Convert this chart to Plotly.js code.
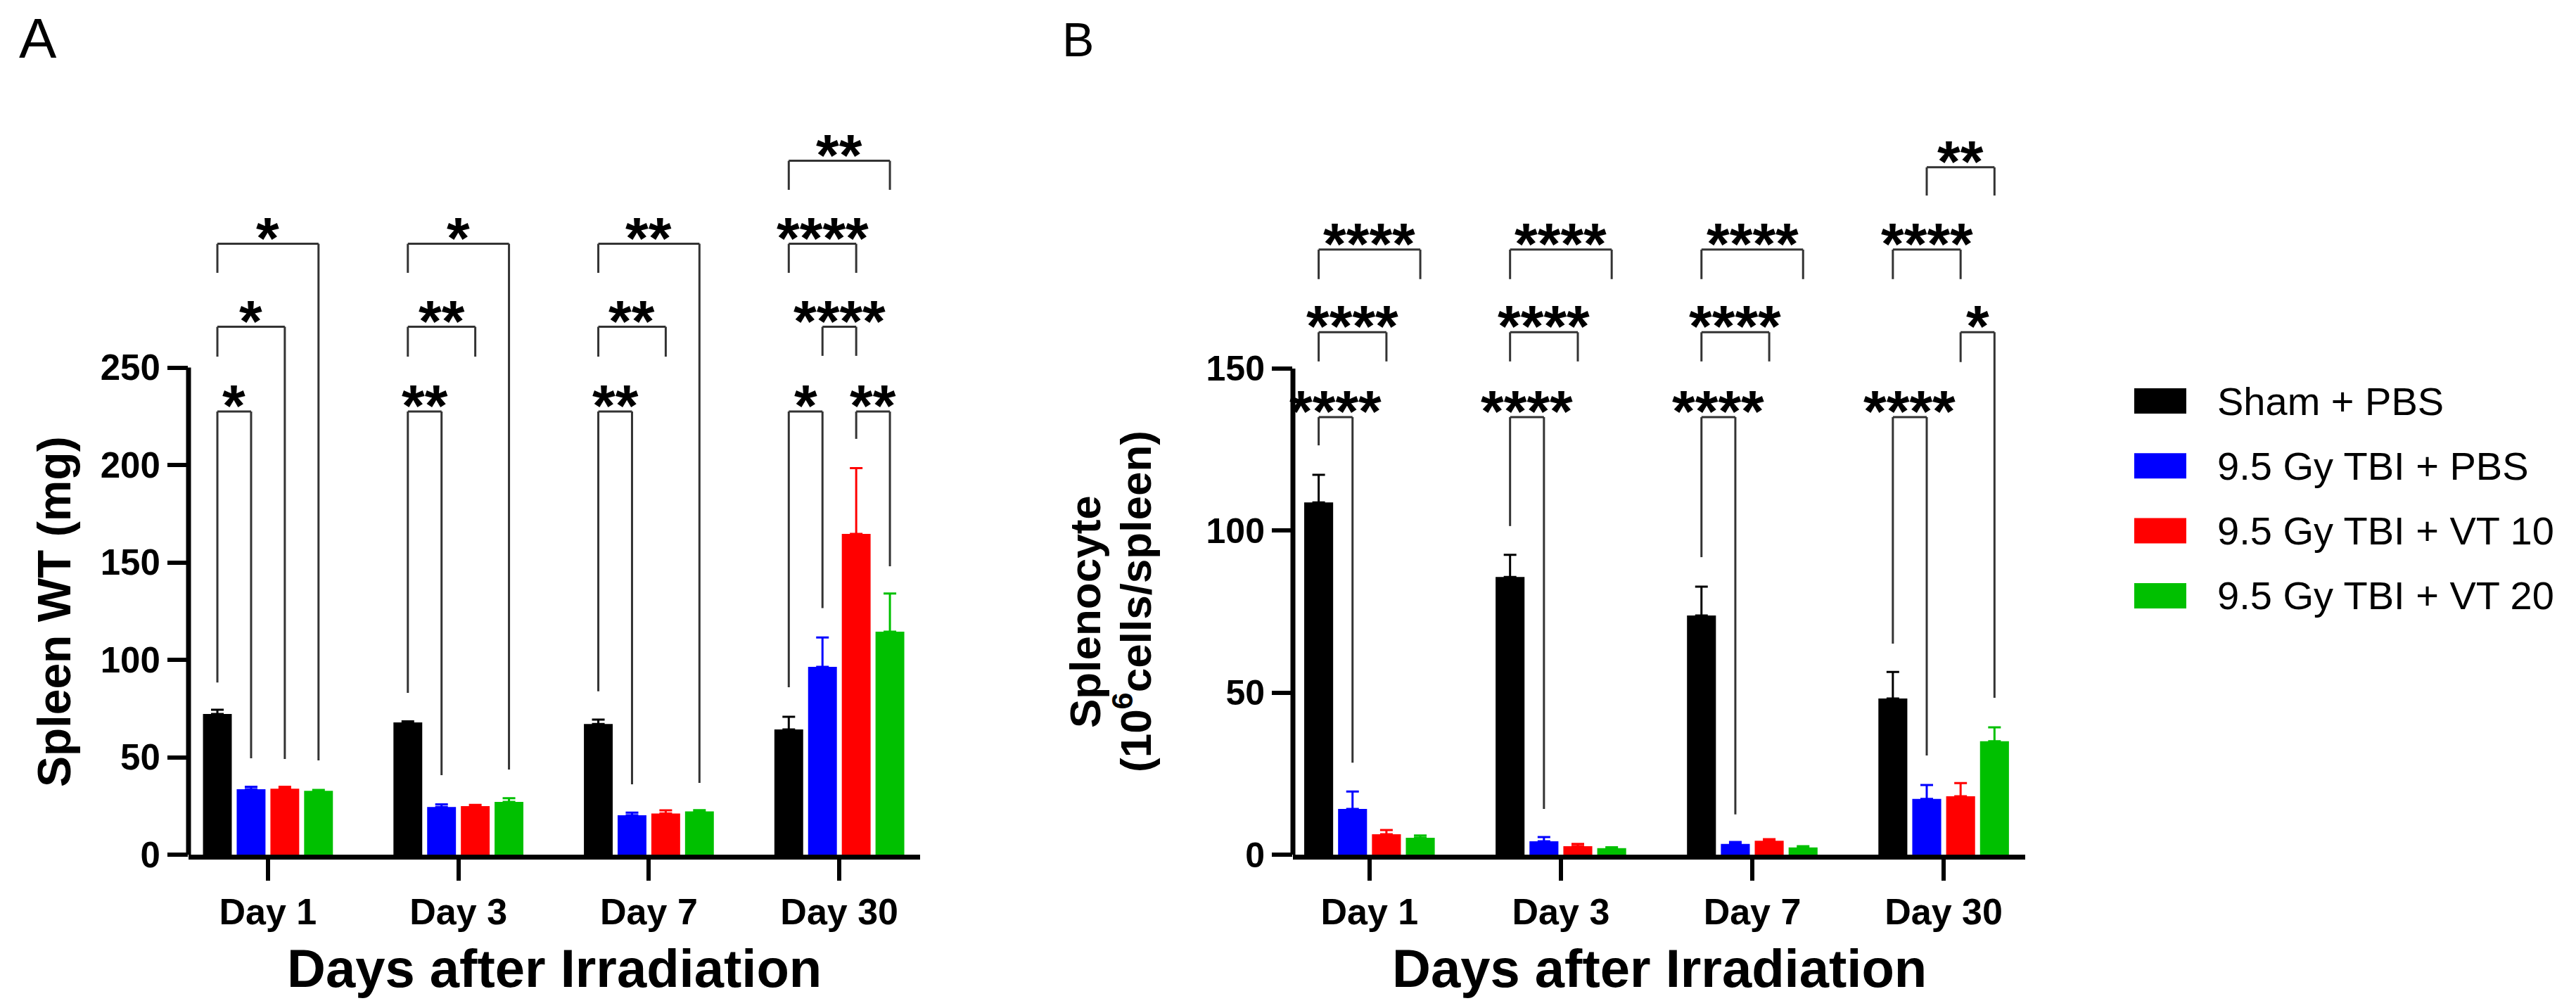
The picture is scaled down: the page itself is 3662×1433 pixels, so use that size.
<!DOCTYPE html>
<html>
<head>
<meta charset="utf-8">
<script src="https://cdn.plot.ly/plotly-3.0.1.min.js"></script>
<style>
  html, body { margin: 0; padding: 0; background: white; }
  #chart { width: 3662px; height: 1433px; }
</style>
</head>
<body>
<div id="chart"></div>
<script>
// ---- data ----
const days = ['Day 1', 'Day 3', 'Day 7', 'Day 30'];
const groups = ['Sham + PBS', '9.5 Gy TBI + PBS', '9.5 Gy TBI + VT 10', '9.5 Gy TBI + VT 20'];
const groupColors = ['#000000', '#0000ff', '#ff0000', '#00c000'];

// panel A: spleen weight (mg), mean and SEM per group
const shamWt = [72.2, 67.9, 67.1, 64.3];
const tbiWt = [33.6, 24.5, 20.2, 96.4];
const vt10Wt = [33.8, 24.9, 21.1, 164.6];
const vt20Wt = [32.8, 27.1, 22.2, 114.4];
const shamWtSem = [2.2, 0.5, 2.2, 6.5];
const tbiWtSem = [1.2, 1.3, 1.4, 15.1];
const vt10WtSem = [1.0, 0.6, 1.6, 33.8];
const vt20WtSem = [0.4, 1.9, 0.6, 19.6];

// panel B: splenocytes (10^6 cells/spleen), mean and SEM per group
const shamCells = [108.7, 85.7, 73.8, 48.2];
const tbiCells = [14.1, 4.1, 3.3, 17.2];
const vt10Cells = [6.3, 2.6, 4.3, 18.0];
const vt20Cells = [5.2, 2.0, 2.2, 35.0];
const shamCellsSem = [8.5, 6.8, 8.9, 8.2];
const tbiCellsSem = [5.4, 1.3, 0.6, 4.3];
const vt10CellsSem = [1.3, 0.7, 0.5, 4.1];
const vt20CellsSem = [0.7, 0.3, 0.4, 4.3];

// significance brackets: [day, group1, group2, top, left leg end, right leg end, label]
const bracketsA = [
  [0, 0, 1, 227.4, 88.4, 49.5, '*'],
  [0, 0, 2, 270.9, 255.6, 49.1, '*'],
  [0, 0, 3, 313.5, 298.6, 48.4, '*'],
  [1, 0, 1, 227.4, 83.0, 40.8, '**'],
  [1, 0, 2, 270.9, 255.6, 255.6, '**'],
  [1, 0, 3, 313.5, 298.6, 43.7, '*'],
  [2, 0, 1, 227.4, 83.8, 36.1, '**'],
  [2, 0, 2, 270.9, 255.6, 255.6, '**'],
  [2, 0, 3, 313.5, 298.6, 36.8, '**'],
  [3, 0, 1, 227.4, 85.9, 126.5, '*'],
  [3, 2, 3, 227.4, 213.4, 148.0, '**'],
  [3, 1, 2, 270.9, 256.0, 256.0, '****'],
  [3, 0, 2, 313.5, 298.6, 298.6, '****'],
  [3, 0, 3, 356.1, 341.2, 341.2, '**']
];
const bracketsB = [
  [0, 0, 1, 135.0, 126.3, 28.4, '****'],
  [0, 0, 2, 161.2, 152.2, 152.2, '****'],
  [0, 0, 3, 186.7, 177.6, 177.6, '****'],
  [1, 0, 1, 135.0, 101.4, 14.1, '****'],
  [1, 0, 2, 161.2, 152.2, 152.2, '****'],
  [1, 0, 3, 186.7, 177.6, 177.6, '****'],
  [2, 0, 1, 135.0, 91.8, 12.4, '****'],
  [2, 0, 2, 161.2, 152.2, 152.2, '****'],
  [2, 0, 3, 186.7, 177.6, 177.6, '****'],
  [3, 0, 1, 135.0, 65.1, 30.6, '****'],
  [3, 2, 3, 161.2, 152.0, 48.4, '*'],
  [3, 0, 2, 186.7, 177.6, 177.6, '****'],
  [3, 1, 3, 212.1, 203.4, 203.4, '**']
];

const yTicksA = [0, 50, 100, 150, 200, 250];
const yTicksB = [0, 50, 100, 150];

// ---- layout constants (pixels of the 3662 x 1433 page) ----
const W = 3662, H = 1433;
const BARGAP = 0.292;
const SLOT = (1 - BARGAP) / groups.length;
const FONT = 'Liberation Sans, Arial, Helvetica, sans-serif';
const px = v => v / W;
const py = v => (H - v) / H;

const meansA = [shamWt, tbiWt, vt10Wt, vt20Wt];
const semsA = [shamWtSem, tbiWtSem, vt10WtSem, vt20WtSem];
const meansB = [shamCells, tbiCells, vt10Cells, vt20Cells];
const semsB = [shamCellsSem, tbiCellsSem, vt10CellsSem, vt20CellsSem];
const dayPos = days.map((d, i) => i);

const traces = [];
function addBars(means, sems, xa, ya) {
  groups.forEach((g, i) => {
    traces.push({
      type: 'bar',
      x: dayPos,
      y: means[i],
      name: g,
      xaxis: xa,
      yaxis: ya,
      marker: { color: groupColors[i], line: { width: 0 } },
      error_y: {
        type: 'data',
        symmetric: false,
        array: sems[i],
        arrayminus: sems[i].map(() => 0),
        color: groupColors[i],
        thickness: 3,
        width: 9
      },
      showlegend: false,
      hoverinfo: 'skip'
    });
  });
}
addBars(meansA, semsA, 'x', 'y');
addBars(meansB, semsB, 'x2', 'y2');

const shapes = [];
const annotations = [];

function barX(day, g) {
  return day + (g - 1.5) * SLOT;
}

function addBrackets(list, xr, yr) {
  const line = { color: '#333333', width: 3 };
  list.forEach(b => {
    const x1 = barX(b[0], b[1]);
    const x2 = barX(b[0], b[2]);
    const top = b[3];
    shapes.push({ type: 'line', xref: xr, yref: yr, x0: x1, x1: x1, y0: b[4], y1: top, line });
    shapes.push({ type: 'line', xref: xr, yref: yr, x0: x1, x1: x2, y0: top, y1: top, line });
    shapes.push({ type: 'line', xref: xr, yref: yr, x0: x2, x1: x2, y0: top, y1: b[5], line });
    annotations.push({
      xref: xr, yref: yr, x: (x1 + x2) / 2, y: top,
      text: b[6], showarrow: false, xanchor: 'center', yanchor: 'middle',
      yshift: 8,
      font: { family: FONT, size: 84, color: '#000', weight: 'bold' }
    });
  });
}
addBrackets(bracketsA, 'x', 'y');
addBrackets(bracketsB, 'x2', 'y2');

// y axis lines stop at the top tick, so they are drawn as shapes
shapes.push({ type: 'line', xref: 'x domain', yref: 'y', x0: 0, x1: 0, y0: 0, y1: 250,
  line: { color: '#000', width: 7 } });
shapes.push({ type: 'line', xref: 'x2 domain', yref: 'y2', x0: 0, x1: 0, y0: 0, y1: 150,
  line: { color: '#000', width: 7 } });

// axis titles and panel letters
const titleFont = { family: FONT, size: 76, color: '#000', weight: 'bold' };
annotations.push({ xref: 'x domain', yref: 'paper', x: 0.5, y: py(1376), text: 'Days after Irradiation',
  showarrow: false, xanchor: 'center', yanchor: 'middle', font: titleFont });
annotations.push({ xref: 'x2 domain', yref: 'paper', x: 0.5, y: py(1376), text: 'Days after Irradiation',
  showarrow: false, xanchor: 'center', yanchor: 'middle', font: titleFont });
annotations.push({ xref: 'paper', yref: 'paper', x: px(77), y: py(870), text: 'Spleen WT (mg)',
  textangle: -90, showarrow: false, xanchor: 'center', yanchor: 'middle',
  font: { family: FONT, size: 66, color: '#000', weight: 'bold' } });
annotations.push({ xref: 'paper', yref: 'paper', x: px(1542), y: py(870), text: 'Splenocyte',
  textangle: -90, showarrow: false, xanchor: 'center', yanchor: 'middle',
  font: { family: FONT, size: 62, color: '#000', weight: 'bold' } });
annotations.push({ xref: 'paper', yref: 'paper', x: px(1610), y: py(855), text: '(10<sup>6</sup>cells/spleen)',
  textangle: -90, showarrow: false, xanchor: 'center', yanchor: 'middle',
  font: { family: FONT, size: 62, color: '#000', weight: 'bold' } });
annotations.push({ xref: 'paper', yref: 'paper', x: px(54), y: py(54), text: 'A',
  showarrow: false, xanchor: 'center', yanchor: 'middle',
  font: { family: FONT, size: 80, color: '#000' } });
annotations.push({ xref: 'paper', yref: 'paper', x: px(1532), y: py(56), text: 'B',
  showarrow: false, xanchor: 'center', yanchor: 'middle',
  font: { family: FONT, size: 68, color: '#000' } });

// legend drawn by hand so the swatches can be large
const LEG_TOP = 570, LEG_STEP = 92.3, SW_L = 3034, SW_R = 3108, SW_H = 36, LEG_TXT = 3150;
groups.forEach((g, i) => {
  const yc = LEG_TOP + i * LEG_STEP;
  shapes.push({ type: 'rect', xref: 'paper', yref: 'paper',
    x0: px(SW_L), x1: px(SW_R), y0: py(yc - SW_H / 2), y1: py(yc + SW_H / 2),
    fillcolor: groupColors[i], line: { width: 0 } });
  annotations.push({ xref: 'paper', yref: 'paper', x: px(LEG_TXT), y: py(yc), text: g,
    showarrow: false, xanchor: 'left', yanchor: 'middle',
    font: { family: FONT, size: 56, color: '#000' } });
});

function xAxis(domain, range) {
  return {
    domain, range,
    tickvals: dayPos, ticktext: days,
    ticks: 'outside', ticklen: 30, tickwidth: 6, tickcolor: '#000',
    showline: true, linewidth: 7, linecolor: '#000',
    showgrid: false, zeroline: false, fixedrange: true,
    tickfont: { family: FONT, size: 52, color: '#000', weight: 'bold' }
  };
}
function yAxis(domain, range, ticks, size) {
  return {
    domain, range,
    tickvals: ticks,
    ticks: 'outside', ticklen: 29, tickwidth: 6, tickcolor: '#000',
    showline: false, showgrid: false, zeroline: false, fixedrange: true,
    tickfont: { family: FONT, size: size, color: '#000', weight: 'bold' }
  };
}

const yDomain = [py(1215), py(150)];
const layout = {
  width: W, height: H,
  margin: { l: 0, r: 0, t: 0, b: 0 },
  paper_bgcolor: 'white', plot_bgcolor: 'white',
  barmode: 'group', bargap: BARGAP, bargroupgap: 0.146,
  showlegend: false,
  xaxis: Object.assign(xAxis([px(268), px(1308)], [-0.417, 3.424]), { anchor: 'y' }),
  yaxis: Object.assign(yAxis(yDomain, [0, (1215 - 150) / 2.77], yTicksA, 51), { anchor: 'x' }),
  xaxis2: Object.assign(xAxis([px(1838), px(2879)], [-0.40, 3.426]), { anchor: 'y2' }),
  yaxis2: Object.assign(yAxis(yDomain, [0, (1215 - 150) / 4.607], yTicksB, 50), { anchor: 'x2' }),
  shapes, annotations
};

Plotly.newPlot('chart', traces, layout, { displayModeBar: false, staticPlot: true });
</script>
</body>
</html>
